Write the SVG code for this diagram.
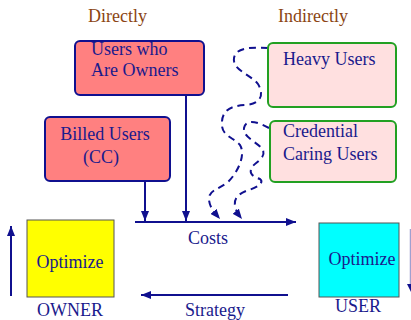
<svg xmlns="http://www.w3.org/2000/svg" width="411" height="320" viewBox="0 0 411 320">
  <style>
    text { font-family: "Liberation Serif", "Times New Roman", serif; font-size: 18px; fill: #1a1a8c; }
    .head { fill: #8b4513; }
    .direct { fill: #ff8080; stroke: #10108f; stroke-width: 2; }
    .indirect { fill: #ffe0e0; stroke: #22a022; stroke-width: 2; }
    .wire { fill: none; stroke: #10108f; stroke-width: 2; }
    .dash { fill: none; stroke: #10108f; stroke-width: 2; stroke-dasharray: 7 5; }
  </style>
  <defs>
    <marker id="arrow" viewBox="0 0 10 8" refX="10" refY="4" markerWidth="10" markerHeight="8" markerUnits="userSpaceOnUse" orient="auto">
      <path d="M0,0 L10,4 L0,8 Z" fill="#10108f"/>
    </marker>
  </defs>

  <rect width="411" height="320" fill="#ffffff"/>

  <!-- column headings -->
  <text class="head" x="88" y="22">Directly</text>
  <text class="head" x="278" y="22">Indirectly</text>

  <!-- connectors -->
  <g id="connectors">
    <line class="wire" x1="186" y1="95" x2="186" y2="221" marker-end="url(#arrow)"/>
    <line class="wire" x1="145" y1="181" x2="145" y2="221" marker-end="url(#arrow)"/>
    <line class="wire" x1="135" y1="222" x2="296" y2="222" marker-end="url(#arrow)"/>
    <line class="wire" x1="288" y1="295" x2="141" y2="295" marker-end="url(#arrow)"/>
    <line class="wire" x1="11" y1="296" x2="11" y2="226" marker-end="url(#arrow)"/>
    <line stroke="#a0a0d0" stroke-width="1.5" x1="410.5" y1="229" x2="410.5" y2="284"/>
    <path d="M407,284 L411,292 L415,284 Z" fill="#10108f"/>
    <!-- influence from heavy users -->
    <path class="dash" d="M268,48 C248,47 236,48 234,58 C232,70 250,74 258,84 C264,94 262,104 245,105 C228,106 221,112 222,126 C223,136 234,138 240,145 C246,155 238,172 228,182 C218,190 208,190 209,200 C210,208 214,212 220,219" marker-end="url(#arrow)"/>
    <!-- influence from credential caring users -->
    <path class="dash" d="M269,128 C258,122 246,118 244,128 C243,138 258,142 263,150 C266,158 256,162 252,167 C248,174 254,177 260,179 C265,183 256,188 246,191 C236,195 234,200 235,206 C236,211 238,214 242,219" marker-end="url(#arrow)"/>
  </g>

  <!-- nodes -->
  <g id="owners">
    <rect class="direct" x="75" y="41" width="129" height="54" rx="5"/>
    <text x="91" y="55">Users who</text>
    <text x="91" y="76">Are Owners</text>
  </g>
  <g id="billed">
    <rect class="direct" x="45" y="117" width="125" height="64" rx="5"/>
    <text x="105" y="140" text-anchor="middle">Billed Users</text>
    <text x="101" y="163" text-anchor="middle">(CC)</text>
  </g>
  <g id="heavy">
    <rect class="indirect" x="268" y="43" width="128" height="64" rx="5"/>
    <text x="283" y="65">Heavy Users</text>
  </g>
  <g id="credential">
    <rect class="indirect" x="270" y="121" width="126" height="61" rx="5"/>
    <text x="283" y="137">Credential</text>
    <text x="283" y="160">Caring Users</text>
  </g>
  <g id="owner">
    <rect x="27" y="220" width="87" height="77" fill="#ffff00" stroke="#555555" stroke-width="1"/>
    <text x="70" y="268" text-anchor="middle">Optimize</text>
    <text x="70" y="316" text-anchor="middle">OWNER</text>
  </g>
  <g id="user">
    <rect x="319" y="223" width="80" height="74" fill="#00ffff" stroke="#555555" stroke-width="1"/>
    <text x="362" y="265" text-anchor="middle">Optimize</text>
    <text x="358" y="312" text-anchor="middle">USER</text>
  </g>

  <!-- edge labels -->
  <text x="208" y="244" text-anchor="middle">Costs</text>
  <text x="215" y="316" text-anchor="middle">Strategy</text>
</svg>
